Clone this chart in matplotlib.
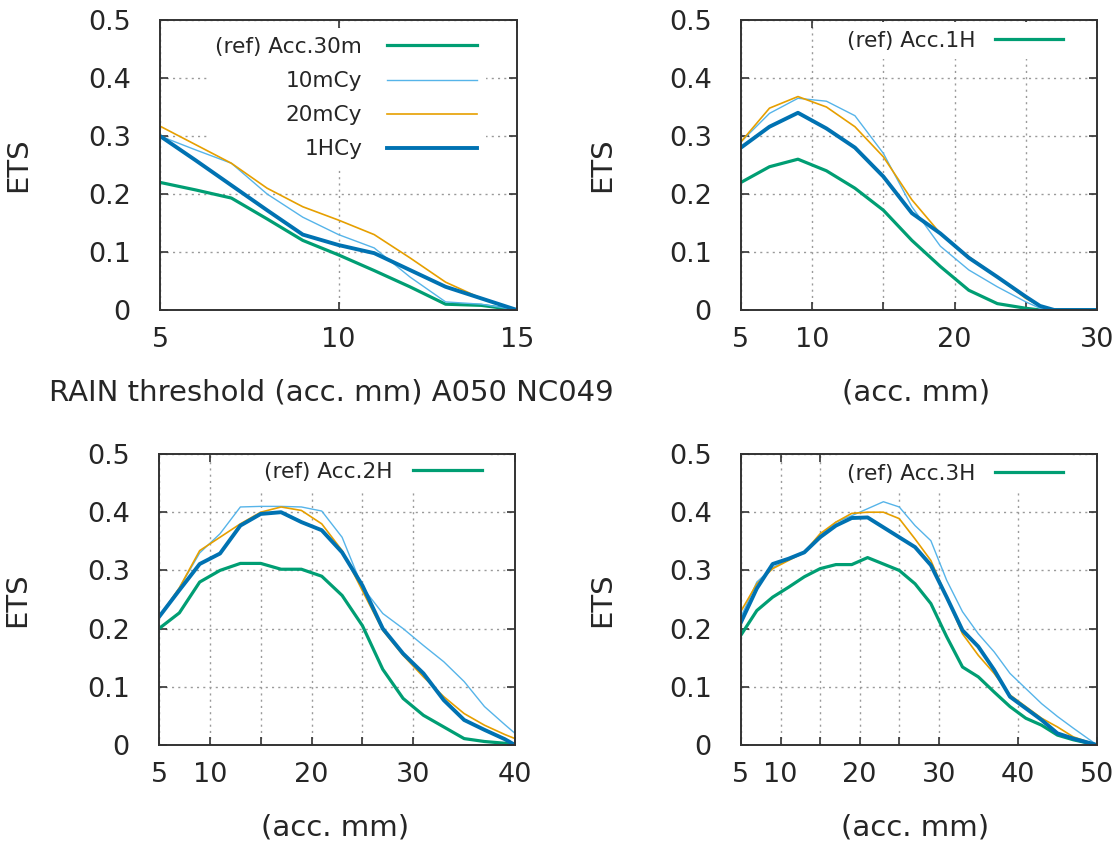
import matplotlib
matplotlib.use("Agg")
import matplotlib.pyplot as plt

plt.rcParams['font.family'] = ['DejaVu Sans']

# ---------------- data ----------------
series_names = ["10mCy", "20mCy", "1HCy"]
ref_names = ["(ref) Acc.30m", "(ref) Acc.1H", "(ref) Acc.2H", "(ref) Acc.3H"]

# Panel 1: 30 min accumulation
x1 = [5, 6, 7, 8, 9, 10, 11, 12, 13, 14, 15]
ref1 = [0.22, 0.207, 0.193, 0.157, 0.12, 0.095, 0.068, 0.04, 0.01, 0.008, 0.0]
c10_1 = [0.30, 0.276, 0.253, 0.20, 0.16, 0.13, 0.107, 0.057, 0.014, 0.01, 0.0]
c20_1 = [0.317, 0.285, 0.253, 0.21, 0.178, 0.155, 0.13, 0.09, 0.048, 0.02, 0.0]
c1h_1 = [0.30, 0.258, 0.215, 0.172, 0.13, 0.112, 0.098, 0.069, 0.04, 0.02, 0.0]

# Panel 2: 1 h accumulation
x2 = [5, 7, 9, 11, 13, 15, 17, 19, 21, 23, 25, 26, 27, 28, 30]
ref2 = [0.22, 0.247, 0.26, 0.24, 0.21, 0.172, 0.12, 0.075, 0.034, 0.011, 0.003, 0.0, 0.0, 0.0, 0.0]
c10_2 = [0.29, 0.339, 0.365, 0.36, 0.335, 0.27, 0.178, 0.11, 0.069, 0.04, 0.014, 0.003, 0.0, 0.0, 0.0]
c20_2 = [0.29, 0.348, 0.368, 0.35, 0.316, 0.264, 0.19, 0.132, 0.092, 0.057, 0.02, 0.007, 0.0, 0.0, 0.0]
c1h_2 = [0.28, 0.316, 0.34, 0.313, 0.28, 0.23, 0.167, 0.132, 0.09, 0.057, 0.023, 0.007, 0.0, 0.0, 0.0]

# Panel 3: 2 h accumulation
x3 = [5, 7, 9, 11, 13, 15, 17, 19, 21, 23, 25, 27, 29, 31, 33, 35, 37, 39, 40]
ref3 = [0.20, 0.227, 0.28, 0.30, 0.312, 0.312, 0.302, 0.302, 0.29, 0.257, 0.205, 0.13, 0.08,
        0.051, 0.031, 0.011, 0.006, 0.003, 0.0]
c10_3 = [0.22, 0.27, 0.33, 0.363, 0.409, 0.41, 0.41, 0.409, 0.402, 0.357, 0.271, 0.226, 0.2,
         0.171, 0.143, 0.109, 0.066, 0.035, 0.02]
c20_3 = [0.22, 0.27, 0.334, 0.357, 0.38, 0.40, 0.409, 0.403, 0.38, 0.334, 0.265, 0.197, 0.154,
         0.117, 0.083, 0.054, 0.034, 0.018, 0.011]
c1h_3 = [0.22, 0.266, 0.311, 0.329, 0.377, 0.397, 0.40, 0.383, 0.369, 0.331, 0.274, 0.20, 0.157,
         0.123, 0.077, 0.043, 0.026, 0.01, 0.0]

# Panel 4: 3 h accumulation
x4 = [5, 7, 9, 11, 13, 15, 17, 19, 21, 23, 25, 27, 29, 31, 33, 35, 37, 39, 41, 43, 45, 47, 50]
ref4 = [0.189, 0.231, 0.254, 0.271, 0.289, 0.303, 0.31, 0.31, 0.322, 0.311, 0.30, 0.277, 0.243,
        0.186, 0.134, 0.117, 0.091, 0.066, 0.046, 0.034, 0.017, 0.009, 0.0]
c10_4 = [0.22, 0.28, 0.305, 0.318, 0.33, 0.36, 0.383, 0.394, 0.406, 0.418, 0.409, 0.377, 0.351,
         0.283, 0.229, 0.191, 0.16, 0.123, 0.097, 0.071, 0.049, 0.029, 0.0]
c20_4 = [0.23, 0.277, 0.303, 0.317, 0.331, 0.363, 0.383, 0.398, 0.40, 0.40, 0.389, 0.354, 0.317,
         0.254, 0.191, 0.154, 0.123, 0.086, 0.066, 0.046, 0.031, 0.014, 0.0]
c1h_4 = [0.211, 0.269, 0.311, 0.32, 0.331, 0.357, 0.377, 0.39, 0.391, 0.374, 0.357, 0.34, 0.309,
         0.254, 0.197, 0.169, 0.129, 0.083, 0.063, 0.043, 0.02, 0.011, 0.0]

# ticks
xt1 = [5, 10, 15]
xl1 = ["5", "10", "15"]
xt2 = [5, 10, 15, 20, 25, 30]
xl2 = ["5", "10", "", "20", "", "30"]
xt3 = [5, 10, 15, 20, 25, 30, 40]
xl3 = ["5", "10", "", "20", "", "30", "40"]
xt4 = [5, 10, 15, 20, 25, 30, 40, 50]
xl4 = ["5", "10", "", "20", "", "30", "40", "50"]
yt = [0, 0.1, 0.2, 0.3, 0.4, 0.5]
yl = ["0", "0.1", "0.2", "0.3", "0.4", "0.5"]

xlabels = ["RAIN threshold (acc. mm) A050 NC049", "(acc. mm)", "(acc. mm)", "(acc. mm)"]

# ---------------- style ----------------
C_REF = "#009e73"
C_10 = "#56b4e9"
C_20 = "#e69f00"
C_1H = "#0072b2"
TXT = "#262626"

fig = plt.figure(figsize=(11.14, 8.44), dpi=100)

positions = [
    [160 / 1114, (844 - 310) / 844, 357 / 1114, 290 / 844],
    [741 / 1114, (844 - 310) / 844, 356 / 1114, 290 / 844],
    [159 / 1114, (844 - 745) / 844, 356 / 1114, 291 / 844],
    [741 / 1114, (844 - 745) / 844, 356 / 1114, 291 / 844],
]

panels = [
    (x1, ref1, c10_1, c20_1, c1h_1, xt1, xl1),
    (x2, ref2, c10_2, c20_2, c1h_2, xt2, xl2),
    (x3, ref3, c10_3, c20_3, c1h_3, xt3, xl3),
    (x4, ref4, c10_4, c20_4, c1h_4, xt4, xl4),
]

LEG_FS = 15.6
legend_anchor = [(0.912, 0.971), (0.928, 0.993), (0.931, 1.003), (0.928, 0.996)]
legend_hl = [4.15, 3.14, 3.18, 3.14]
legend_pad = [1.15, 0.88, 0.92, 0.88]
ylab_pos = [(-0.398, 0.50), (-0.39, 0.50), (-0.398, 0.498), (-0.39, 0.498)]
xlab_pos = [(0.479, -0.286), (0.492, -0.283), (0.494, -0.285), (0.49, -0.285)]

for i, (pos, pan) in enumerate(zip(positions, panels)):
    x, ref, c10, c20, c1h, xt, xl = pan
    ax = fig.add_axes(pos)
    ax.set_axisbelow(True)
    ax.plot(x, ref, color=C_REF, lw=2.3, solid_joinstyle="round", label=ref_names[i], zorder=6)
    l10, = ax.plot(x, c10, color=C_10, lw=1.0, solid_joinstyle="round", zorder=6)
    l20, = ax.plot(x, c20, color=C_20, lw=1.2, solid_joinstyle="round", zorder=6)
    l1h, = ax.plot(x, c1h, color=C_1H, lw=2.8, solid_joinstyle="round", zorder=6)
    if i == 0:
        l10.set_label(series_names[0])
        l20.set_label(series_names[1])
        l1h.set_label(series_names[2])

    ax.set_xlim(x[0], x[-1])
    ax.set_ylim(0, 0.5)
    ax.set_xticks(xt)
    ax.set_xticklabels(xl)
    ax.set_yticks(yt)
    ax.set_yticklabels(yl)
    ax.tick_params(axis="both", direction="in", length=6, width=1.2, colors="#333333",
                   labelcolor=TXT, labelsize=19.5, top=True, right=True)
    ax.tick_params(axis="y", pad=21)
    ax.tick_params(axis="x", pad=12)
    ax.grid(True, color="#9a9a9a", linestyle=(0, (1.5, 3)), linewidth=1.0)
    for sp in ax.spines.values():
        sp.set_color("#333333")
        sp.set_linewidth(1.4)
        sp.set_zorder(7)

    ax.set_ylabel("ETS", fontsize=21, color=TXT, va="center")
    ax.yaxis.set_label_coords(*ylab_pos[i])
    ax.set_xlabel(xlabels[i], fontsize=21, color=TXT, va="center")
    ax.xaxis.set_label_coords(*xlab_pos[i])

    leg = ax.legend(loc="upper right", bbox_to_anchor=legend_anchor[i], borderaxespad=0,
                    markerfirst=False, frameon=True, fancybox=False, framealpha=1.0,
                    edgecolor="none", facecolor="white", fontsize=LEG_FS,
                    handlelength=legend_hl[i], handletextpad=legend_pad[i],
                    labelspacing=0.65, borderpad=0.4)
    leg.set_zorder(5)
    for t in leg.get_texts():
        t.set_color(TXT)

fig.savefig("out.png", dpi=100, facecolor="white")
